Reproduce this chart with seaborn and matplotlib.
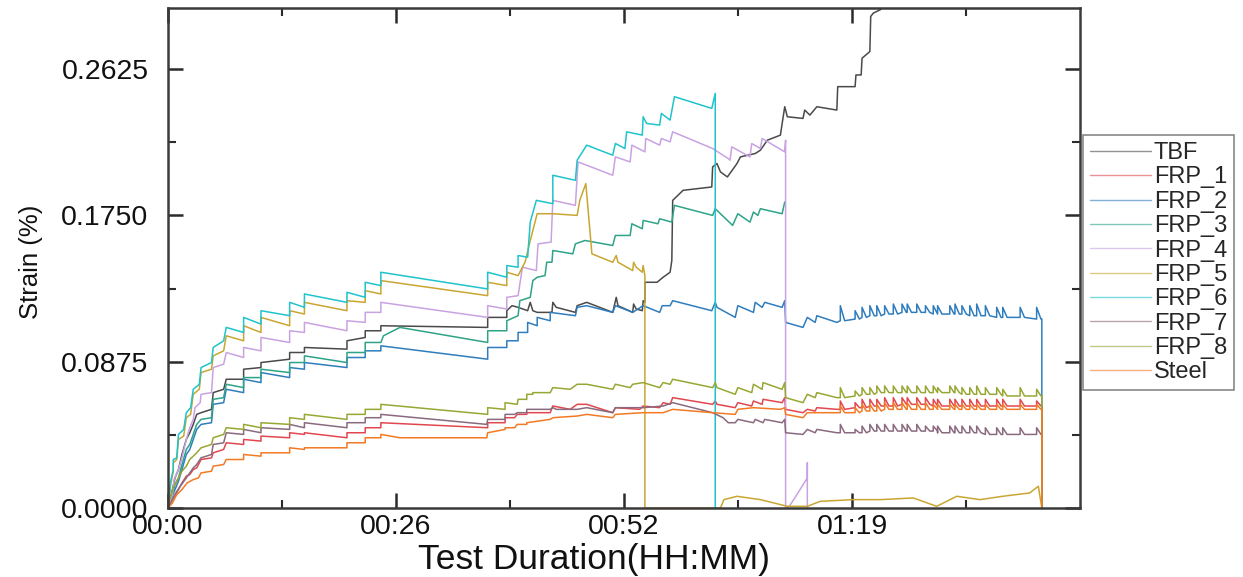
import matplotlib
matplotlib.use("Agg")
import matplotlib.pyplot as plt
import numpy as np
import pandas as pd
import seaborn as sns
from matplotlib.ticker import FixedLocator, FixedFormatter

# ---------------------------------------------------------------
# Strain records (time in minutes, strain in %)
# ---------------------------------------------------------------
sensors = ["TBF", "FRP_1", "FRP_2", "FRP_3", "FRP_4",
           "FRP_5", "FRP_6", "FRP_7", "FRP_8", "Steel"]
colors = ["#4a4a4a", "#e2474f", "#2f7dbd", "#2ea388", "#c9a2e2",
          "#c9a632", "#1fc3cc", "#8a6a7e", "#98a733", "#f27a25"]

tbf = [(0.0, 0.000), (0.5, 0.011), (0.8, 0.018), (1.2, 0.023), (1.6, 0.032),
       (2.1, 0.041), (2.5, 0.045), (2.9, 0.050), (3.3, 0.056), (3.8, 0.057),
       (5.0, 0.059), (5.2, 0.069), (6.4, 0.071), (6.7, 0.077), (8.7, 0.077),
       (8.7, 0.083), (10.7, 0.084), (10.7, 0.087), (14.0, 0.089), (14.0, 0.093),
       (15.7, 0.093), (15.7, 0.096), (20.6, 0.095), (20.6, 0.100), (22.7, 0.102),
       (22.7, 0.106), (24.5, 0.106), (24.5, 0.109), (36.8, 0.108), (36.8, 0.114),
       (39.0, 0.114), (39.0, 0.118), (39.6, 0.121), (40.3, 0.120), (41.4, 0.118),
       (41.7, 0.123), (42.0, 0.118), (42.5, 0.117), (44.2, 0.117), (44.3, 0.123),
       (44.7, 0.120), (46.9, 0.117), (47.1, 0.121), (48.2, 0.123), (51.2, 0.117),
       (51.6, 0.126), (51.8, 0.121), (53.5, 0.117), (53.6, 0.122), (53.9, 0.119),
       (54.6, 0.118), (54.7, 0.124), (54.9, 0.123), (54.9, 0.135), (56.3, 0.135),
       (57.0, 0.138), (57.8, 0.141), (58.0, 0.148), (58.1, 0.184), (59.3, 0.190),
       (62.6, 0.192), (62.7, 0.204), (63.2, 0.206), (63.6, 0.201), (64.4, 0.198),
       (65.5, 0.206), (65.9, 0.210), (67.6, 0.212), (68.2, 0.214), (69.0, 0.220),
       (70.5, 0.223), (71.0, 0.240), (71.3, 0.234), (73.1, 0.233), (73.3, 0.238),
       (73.9, 0.235), (74.7, 0.240), (77.0, 0.238), (77.1, 0.252), (79.1, 0.252),
       (79.2, 0.259), (79.8, 0.259), (79.9, 0.269), (80.8, 0.273), (80.9, 0.294),
       (81.2, 0.296), (82.0, 0.298), (82.4, 0.301)]

frp1 = [(0.0, 0.000), (0.5, 0.005), (1.2, 0.011), (1.6, 0.015), (2.1, 0.019),
        (2.5, 0.020), (2.9, 0.023), (3.3, 0.024), (3.8, 0.029), (5.0, 0.030),
        (5.2, 0.033), (6.4, 0.035), (6.7, 0.039), (8.7, 0.038), (8.7, 0.041),
        (10.7, 0.040), (10.7, 0.043), (14.0, 0.042), (14.0, 0.045), (15.7, 0.044),
        (15.7, 0.045), (20.6, 0.042), (20.6, 0.045), (22.7, 0.045), (22.7, 0.048),
        (24.5, 0.048), (24.5, 0.051), (36.8, 0.048), (36.8, 0.051), (38.8, 0.051),
        (38.8, 0.054), (39.9, 0.054), (40.2, 0.056), (41.3, 0.056), (41.3, 0.057),
        (44.0, 0.057), (44.3, 0.061), (46.3, 0.059), (47.1, 0.062), (48.2, 0.062),
        (51.2, 0.057), (51.5, 0.060), (54.3, 0.059), (54.7, 0.061), (56.6, 0.060),
        (57.0, 0.063), (57.8, 0.062), (58.1, 0.066), (62.7, 0.062), (63.0, 0.064),
        (63.2, 0.062), (65.3, 0.060), (65.6, 0.063), (67.2, 0.061), (67.4, 0.064),
        (68.4, 0.062), (68.5, 0.065), (70.7, 0.063), (71.0, 0.066), (71.1, 0.059),
        (73.1, 0.057), (73.6, 0.059), (74.5, 0.058), (74.7, 0.060), (77.0, 0.059)]

frp2 = [(0.0, 0.000), (0.5, 0.007), (0.8, 0.011), (1.2, 0.016), (1.6, 0.023),
        (2.1, 0.032), (2.5, 0.035), (2.9, 0.041), (3.3, 0.047), (3.8, 0.050),
        (5.0, 0.051), (5.2, 0.062), (6.4, 0.063), (6.7, 0.071), (8.7, 0.069),
        (8.7, 0.077), (10.7, 0.075), (10.7, 0.081), (14.0, 0.078), (14.0, 0.084),
        (15.7, 0.083), (15.7, 0.087), (20.6, 0.084), (20.6, 0.090), (22.7, 0.090),
        (22.7, 0.094), (24.5, 0.094), (24.5, 0.097), (36.8, 0.089), (36.8, 0.096),
        (39.0, 0.096), (39.0, 0.100), (40.3, 0.100), (40.3, 0.105), (41.4, 0.105),
        (41.4, 0.111), (42.5, 0.109), (42.5, 0.114), (44.0, 0.112), (44.0, 0.117),
        (46.9, 0.115), (47.1, 0.120), (48.2, 0.121), (51.2, 0.117), (51.5, 0.121),
        (53.5, 0.117), (54.7, 0.121), (56.6, 0.117), (56.9, 0.121), (57.8, 0.121),
        (58.1, 0.124), (62.6, 0.118), (63.0, 0.123), (63.2, 0.120), (65.3, 0.114),
        (65.6, 0.121), (67.4, 0.117), (67.6, 0.123), (68.4, 0.120), (68.7, 0.123),
        (70.7, 0.120), (71.0, 0.124), (71.1, 0.111), (73.1, 0.108), (73.6, 0.114),
        (74.5, 0.111), (74.7, 0.115), (77.0, 0.111)]

frp3 = [(0.0, 0.000), (0.5, 0.008), (0.8, 0.014), (1.2, 0.018), (1.6, 0.026),
        (2.1, 0.035), (2.5, 0.038), (2.9, 0.044), (3.3, 0.050), (3.8, 0.053),
        (5.0, 0.054), (5.2, 0.065), (6.4, 0.066), (6.7, 0.074), (8.7, 0.072),
        (8.7, 0.078), (10.7, 0.078), (10.7, 0.083), (14.0, 0.081), (14.0, 0.087),
        (15.7, 0.087), (15.7, 0.091), (20.6, 0.087), (20.6, 0.093), (22.7, 0.093),
        (22.7, 0.099), (24.5, 0.099), (24.8, 0.103), (26.7, 0.108), (36.8, 0.099),
        (36.8, 0.106), (39.0, 0.106), (39.0, 0.112), (40.3, 0.115), (40.5, 0.124),
        (41.7, 0.126), (42.0, 0.136), (42.5, 0.138), (43.4, 0.139), (43.6, 0.147),
        (44.2, 0.147), (44.3, 0.154), (46.6, 0.152), (46.9, 0.158), (48.0, 0.160),
        (51.2, 0.157), (51.5, 0.163), (53.2, 0.163), (53.4, 0.170), (54.6, 0.167),
        (54.7, 0.172), (56.4, 0.170), (56.6, 0.173), (58.0, 0.171), (58.3, 0.181),
        (62.7, 0.175), (63.0, 0.179), (65.0, 0.169), (65.6, 0.176), (67.0, 0.171),
        (67.4, 0.177), (67.9, 0.175), (68.2, 0.179), (70.7, 0.176), (71.0, 0.183)]

frp4 = [(0.0, 0.000), (0.5, 0.008), (0.7, 0.017), (1.2, 0.023), (1.6, 0.030),
        (2.1, 0.041), (2.5, 0.048), (2.9, 0.053), (3.1, 0.060), (3.7, 0.063),
        (3.8, 0.068), (5.0, 0.069), (5.2, 0.084), (6.4, 0.086), (6.7, 0.093),
        (8.7, 0.090), (8.7, 0.096), (10.7, 0.094), (10.7, 0.102), (14.0, 0.099),
        (14.0, 0.106), (15.7, 0.105), (15.7, 0.111), (20.6, 0.106), (20.6, 0.112),
        (22.7, 0.111), (22.7, 0.117), (24.5, 0.117), (24.5, 0.123), (36.8, 0.114),
        (36.8, 0.121), (39.0, 0.119), (39.0, 0.126), (40.3, 0.127), (40.8, 0.144),
        (42.4, 0.142), (42.6, 0.158), (44.1, 0.159), (44.3, 0.184), (46.9, 0.181),
        (47.2, 0.207), (51.2, 0.199), (51.5, 0.210), (53.2, 0.207), (53.4, 0.217),
        (54.9, 0.213), (55.0, 0.221), (56.6, 0.217), (56.8, 0.221), (57.8, 0.219),
        (58.1, 0.225), (62.7, 0.215), (64.5, 0.209), (64.7, 0.208), (64.9, 0.216),
        (67.0, 0.210), (67.2, 0.218), (68.2, 0.215), (68.4, 0.221), (71.0, 0.213),
        (71.1, 0.220), (71.1, 0.000), (71.4, 0.000), (72.4, 0.008), (73.6, 0.018),
        (73.6, 0.027), (73.6, 0.000)]

frp5 = [(0.0, 0.000), (0.3, 0.014), (0.6, 0.022), (0.6, 0.027), (1.0, 0.029),
        (1.2, 0.041), (1.8, 0.043), (2.1, 0.054), (2.6, 0.056), (2.9, 0.068),
        (3.6, 0.071), (3.8, 0.081), (5.0, 0.083), (5.2, 0.091), (6.4, 0.094),
        (6.7, 0.103), (8.7, 0.100), (8.7, 0.109), (10.7, 0.105), (10.7, 0.114),
        (14.0, 0.109), (14.0, 0.118), (15.7, 0.116), (15.7, 0.123), (20.6, 0.118),
        (20.6, 0.124), (22.7, 0.123), (22.7, 0.130), (24.5, 0.128), (24.5, 0.136),
        (36.8, 0.127), (36.8, 0.135), (39.0, 0.133), (39.0, 0.141), (40.3, 0.139),
        (41.1, 0.147), (41.7, 0.160), (42.5, 0.176), (44.3, 0.176), (47.1, 0.175),
        (47.4, 0.184), (48.1, 0.194), (48.4, 0.176), (48.8, 0.152), (51.2, 0.147),
        (51.6, 0.151), (51.8, 0.147), (53.5, 0.142), (53.6, 0.147), (53.9, 0.144),
        (54.6, 0.141), (54.7, 0.145), (54.9, 0.139), (54.9, 0.000), (63.6, 0.000),
        (64.0, 0.005), (65.5, 0.007), (68.2, 0.005), (71.3, 0.001), (73.6, 0.001),
        (75.1, 0.004), (78.9, 0.005), (82.0, 0.005), (85.8, 0.006), (88.5, 0.001),
        (90.8, 0.007), (93.5, 0.005), (96.1, 0.007), (99.2, 0.009), (100.2, 0.013),
        (100.6, 0.000)]

frp6 = [(0.0, 0.000), (0.3, 0.016), (0.6, 0.023), (0.6, 0.029), (1.0, 0.030),
        (1.2, 0.044), (1.8, 0.047), (2.1, 0.057), (2.6, 0.060), (2.9, 0.071),
        (3.6, 0.074), (3.8, 0.084), (5.0, 0.087), (5.2, 0.096), (6.4, 0.100),
        (6.7, 0.108), (8.7, 0.105), (8.7, 0.114), (10.7, 0.110), (10.7, 0.118),
        (14.0, 0.115), (14.0, 0.123), (15.7, 0.120), (15.7, 0.128), (20.6, 0.123),
        (20.6, 0.129), (22.7, 0.126), (22.7, 0.135), (24.5, 0.133), (24.5, 0.141),
        (36.8, 0.131), (36.8, 0.141), (39.0, 0.138), (39.0, 0.145), (40.3, 0.144),
        (40.3, 0.151), (41.4, 0.150), (41.7, 0.171), (42.4, 0.184), (44.3, 0.182),
        (44.3, 0.199), (46.9, 0.196), (47.1, 0.208), (48.2, 0.217), (51.2, 0.211),
        (51.5, 0.218), (52.6, 0.215), (52.8, 0.225), (54.6, 0.223), (54.7, 0.234),
        (55.1, 0.230), (56.6, 0.229), (56.8, 0.236), (57.8, 0.232), (58.3, 0.246),
        (62.6, 0.239), (63.0, 0.248), (63.0, 0.000)]

frp7 = [(0.0, 0.000), (0.5, 0.005), (0.9, 0.009), (1.4, 0.013), (2.1, 0.018),
        (2.5, 0.021), (2.9, 0.024), (3.3, 0.026), (3.8, 0.030), (5.0, 0.032),
        (5.2, 0.038), (6.4, 0.039), (6.7, 0.045), (8.7, 0.044), (8.7, 0.047),
        (10.7, 0.045), (10.7, 0.048), (14.0, 0.047), (14.0, 0.050), (15.7, 0.048),
        (15.7, 0.051), (20.6, 0.048), (20.6, 0.051), (22.7, 0.051), (22.7, 0.054),
        (24.5, 0.054), (24.5, 0.056), (36.7, 0.050), (36.8, 0.053), (38.8, 0.053),
        (38.8, 0.056), (39.9, 0.056), (40.2, 0.057), (41.3, 0.057), (41.3, 0.059),
        (44.0, 0.059), (44.3, 0.060), (44.7, 0.059), (47.1, 0.059), (48.2, 0.060),
        (51.2, 0.057), (51.5, 0.060), (54.7, 0.060), (57.0, 0.061), (58.1, 0.063),
        (62.7, 0.057), (63.9, 0.054), (64.5, 0.051), (65.3, 0.051), (65.6, 0.053),
        (67.4, 0.051), (67.6, 0.053), (68.5, 0.051), (68.7, 0.053), (70.7, 0.051),
        (71.0, 0.053), (71.1, 0.045), (73.1, 0.044), (73.6, 0.047), (74.5, 0.045),
        (74.7, 0.047), (77.0, 0.045)]

frp8 = [(0.0, 0.000), (0.2, 0.005), (0.6, 0.012), (0.8, 0.014), (1.2, 0.018),
        (1.6, 0.022), (2.1, 0.025), (2.5, 0.029), (2.9, 0.031), (3.3, 0.033),
        (3.8, 0.036), (5.0, 0.038), (5.2, 0.042), (6.4, 0.044), (6.7, 0.048),
        (8.7, 0.047), (8.7, 0.050), (10.7, 0.048), (10.7, 0.051), (14.0, 0.050),
        (14.0, 0.054), (15.7, 0.053), (15.7, 0.056), (20.6, 0.053), (20.6, 0.056),
        (22.7, 0.056), (22.7, 0.059), (24.5, 0.059), (24.5, 0.062), (36.8, 0.056),
        (36.8, 0.060), (38.8, 0.059), (38.8, 0.063), (40.2, 0.062), (40.3, 0.065),
        (41.3, 0.065), (41.3, 0.068), (42.0, 0.068), (42.0, 0.069), (44.0, 0.069),
        (44.3, 0.072), (46.3, 0.071), (47.1, 0.074), (48.2, 0.074), (51.2, 0.071),
        (51.5, 0.074), (53.2, 0.072), (53.5, 0.074), (54.7, 0.075), (56.6, 0.072),
        (57.0, 0.075), (57.8, 0.074), (58.1, 0.077), (62.7, 0.072), (63.0, 0.075),
        (63.2, 0.072), (65.3, 0.068), (65.6, 0.072), (67.2, 0.069), (67.4, 0.074),
        (68.4, 0.071), (68.5, 0.075), (70.7, 0.071), (71.0, 0.075), (71.1, 0.066),
        (73.1, 0.063), (73.6, 0.068), (74.5, 0.066), (74.7, 0.069), (77.0, 0.066)]

steel = [(0.0, 0.000), (0.5, 0.003), (1.0, 0.008), (1.6, 0.011), (2.2, 0.015),
         (2.9, 0.017), (3.5, 0.018), (3.8, 0.021), (5.0, 0.022), (5.2, 0.025),
         (6.4, 0.026), (6.7, 0.029), (8.7, 0.029), (8.7, 0.032), (10.7, 0.031),
         (10.7, 0.033), (14.0, 0.033), (14.0, 0.036), (15.7, 0.035), (15.7, 0.036),
         (20.6, 0.036), (20.6, 0.039), (22.7, 0.039), (22.7, 0.042), (24.5, 0.042),
         (24.5, 0.044), (26.7, 0.042), (36.7, 0.042), (36.8, 0.045), (38.8, 0.047),
         (38.8, 0.048), (39.9, 0.048), (40.2, 0.050), (41.3, 0.050), (41.3, 0.051),
         (44.0, 0.053), (44.3, 0.054), (47.1, 0.055), (48.2, 0.056), (51.2, 0.054),
         (51.5, 0.056), (54.7, 0.057), (57.0, 0.057), (58.1, 0.059), (62.7, 0.057),
         (65.3, 0.056), (65.6, 0.059), (67.4, 0.060), (70.5, 0.059), (71.0, 0.060),
         (71.1, 0.056), (73.1, 0.054), (73.6, 0.057), (74.7, 0.057), (77.0, 0.057)]

# Holding-phase load cycles (minutes) and the strain just before / at each cycle
cycle_times = [77.4, 79.1, 79.9, 80.8, 81.6, 82.5, 83.5, 84.5, 85.1, 86.2, 87.2, 88.1,
               88.6, 90.0, 90.6, 91.4, 92.3, 93.1, 94.1, 95.4, 96.1, 98.1, 100.0]
unload_time = 100.6
relax_min = 0.5

frp1_base = [0.059, 0.060, 0.060, 0.061, 0.061, 0.061, 0.061, 0.062, 0.062, 0.062, 0.062, 0.061,
             0.061, 0.061, 0.061, 0.061, 0.061, 0.061, 0.061, 0.061, 0.061, 0.061, 0.061]
frp1_peak = [0.064, 0.063, 0.065, 0.065, 0.065, 0.066, 0.066, 0.066, 0.066, 0.066, 0.066, 0.065,
             0.065, 0.065, 0.065, 0.065, 0.065, 0.065, 0.065, 0.065, 0.065, 0.065, 0.064]
frp2_base = [0.112, 0.113, 0.114, 0.115, 0.115, 0.116, 0.116, 0.117, 0.117, 0.117, 0.117, 0.116,
             0.116, 0.116, 0.116, 0.116, 0.115, 0.115, 0.115, 0.114, 0.114, 0.114, 0.113]
frp2_peak = [0.121, 0.118, 0.120, 0.121, 0.121, 0.121, 0.122, 0.122, 0.122, 0.122, 0.121, 0.121,
             0.121, 0.121, 0.122, 0.121, 0.121, 0.122, 0.121, 0.120, 0.120, 0.120, 0.120]
frp7_base = [0.045, 0.045, 0.045, 0.046, 0.046, 0.046, 0.046, 0.046, 0.046, 0.046, 0.046, 0.046,
             0.045, 0.045, 0.045, 0.045, 0.045, 0.045, 0.044, 0.044, 0.044, 0.044, 0.044]
frp7_peak = [0.050, 0.047, 0.049, 0.050, 0.050, 0.050, 0.050, 0.050, 0.050, 0.050, 0.049, 0.049,
             0.049, 0.049, 0.049, 0.049, 0.049, 0.049, 0.048, 0.048, 0.048, 0.048, 0.048]
frp8_base = [0.066, 0.067, 0.068, 0.068, 0.069, 0.069, 0.069, 0.069, 0.069, 0.069, 0.069, 0.069,
             0.069, 0.069, 0.069, 0.068, 0.068, 0.068, 0.068, 0.068, 0.067, 0.067, 0.067]
frp8_peak = [0.072, 0.070, 0.072, 0.072, 0.073, 0.073, 0.073, 0.073, 0.073, 0.073, 0.073, 0.073,
             0.072, 0.073, 0.073, 0.072, 0.072, 0.073, 0.072, 0.072, 0.071, 0.072, 0.071]
steel_base = [0.057, 0.057, 0.058, 0.058, 0.058, 0.059, 0.059, 0.059, 0.059, 0.059, 0.059, 0.059,
              0.059, 0.059, 0.059, 0.059, 0.059, 0.059, 0.059, 0.059, 0.059, 0.059, 0.059]
steel_peak = [0.061, 0.060, 0.062, 0.062, 0.062, 0.063, 0.063, 0.063, 0.063, 0.063, 0.063, 0.062,
              0.062, 0.062, 0.062, 0.062, 0.062, 0.062, 0.062, 0.062, 0.062, 0.062, 0.062]

x_tick_values = [0.0, 26.25, 52.5, 78.75]
x_tick_labels = ["00:00", "00:26", "00:52", "01:19"]
y_tick_values = [0.0, 0.0875, 0.175, 0.2625]
y_tick_labels = ["0.0000", "0.0875", "0.1750", "0.2625"]


def with_cycles(points, base, peak):
    """Append the holding-phase load cycles and the final unloading."""
    pts = list(points)
    for t, b, p in zip(cycle_times, base, peak):
        pts += [(t, b), (t, p), (t + relax_min, b)]
    pts += [(unload_time, base[-1]), (unload_time, 0.0)]
    return pts


records = {
    "TBF": tbf,
    "FRP_1": with_cycles(frp1, frp1_base, frp1_peak),
    "FRP_2": with_cycles(frp2, frp2_base, frp2_peak),
    "FRP_3": frp3,
    "FRP_4": frp4,
    "FRP_5": frp5,
    "FRP_6": frp6,
    "FRP_7": with_cycles(frp7, frp7_base, frp7_peak),
    "FRP_8": with_cycles(frp8, frp8_base, frp8_peak),
    "Steel": with_cycles(steel, steel_base, steel_peak),
}

rows = []
for name in sensors:
    for order, (t, s) in enumerate(records[name]):
        rows.append({"sensor": name, "order": order, "time": t, "strain": s})
df = pd.DataFrame(rows)

# ---------------------------------------------------------------
# Figure
# ---------------------------------------------------------------
sns.set_theme(style="white")
plt.rcParams["font.family"] = ["Liberation Sans", "DejaVu Sans"]

fig = plt.figure(figsize=(12.43, 5.77), dpi=100)
ax = fig.add_axes([0.1352, 0.1196, 0.7337, 0.8664])

sns.lineplot(data=df, x="time", y="strain", hue="sensor", hue_order=sensors,
             palette=dict(zip(sensors, colors)), estimator=None, sort=False,
             units="sensor", linewidth=1.1, ax=ax, legend=True)

ax.set_xlim(0, 105)
ax.set_ylim(0, 0.299)

ax.xaxis.set_major_locator(FixedLocator(x_tick_values))
ax.xaxis.set_major_formatter(FixedFormatter(x_tick_labels))
ax.xaxis.set_minor_locator(FixedLocator([13.125, 39.375, 65.625, 91.875]))
ax.yaxis.set_major_locator(FixedLocator(y_tick_values))
ax.yaxis.set_major_formatter(FixedFormatter(y_tick_labels))
ax.yaxis.set_minor_locator(FixedLocator([0.04375, 0.13125, 0.21875]))

ax.tick_params(which="both", direction="in", top=True, right=True,
               bottom=True, left=True, color="#2b2b2b")
ax.tick_params(which="major", length=11, width=1.8, labelsize=20.5,
               labelcolor="#111111")
ax.tick_params(axis="y", which="major", pad=14)
ax.tick_params(axis="x", which="major", pad=4)
ax.tick_params(which="minor", length=6, width=1.5)

for sp in ax.spines.values():
    sp.set_color("#3a3a3a")
    sp.set_linewidth(1.8)

ax.set_xlabel("Test Duration(HH:MM)", fontsize=25.5, color="#111111")
ax.xaxis.set_label_coords(0.467, -0.070)
ax.set_ylabel("Strain (%)", fontsize=18.5, color="#111111")
ax.yaxis.set_label_coords(-0.137, 0.492)

handles, labels = ax.get_legend_handles_labels()
leg = ax.legend(handles, labels, loc="upper left",
                bbox_to_anchor=(0.871, 0.766), bbox_transform=fig.transFigure,
                fontsize=17, frameon=True, fancybox=False, framealpha=1,
                edgecolor="#888888", handlelength=2.6, handletextpad=0.12,
                labelspacing=0.1, borderpad=0.3, borderaxespad=0)
leg.get_frame().set_linewidth(1.2)
for line in leg.get_lines():
    line.set_linewidth(1.0)
    line.set_alpha(0.6)

fig.savefig("out.png", dpi=100)
